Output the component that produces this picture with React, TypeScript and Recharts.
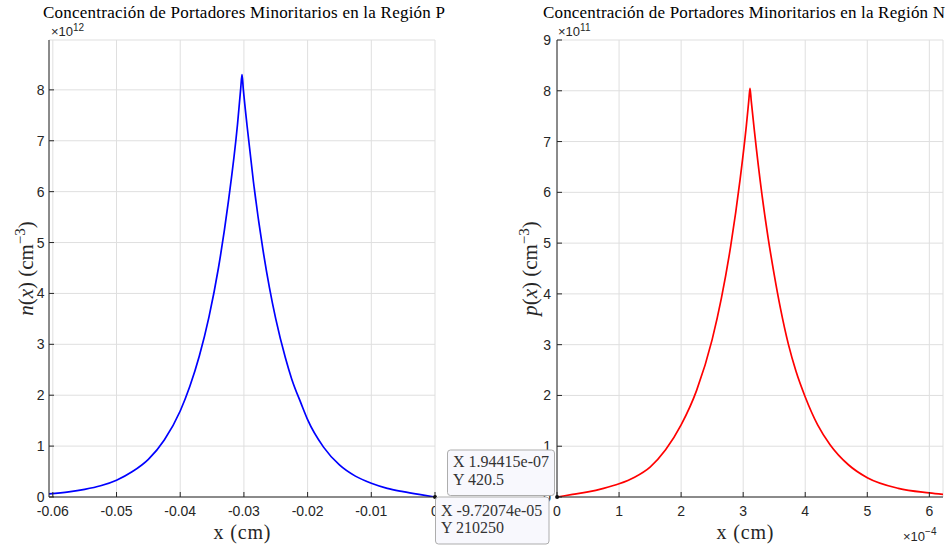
import React from 'react';
import { LineChart, Line, XAxis, YAxis, CartesianGrid, ReferenceDot } from 'recharts';

// Región P: x in cm, n(x) in units of 1e12 cm^-3
const xP = [-0.0606, -0.0575, -0.055, -0.0525, -0.05, -0.0475, -0.045, -0.0425, -0.04, -0.0385, -0.037, -0.0355, -0.034, -0.0325, -0.031, -0.0305, -0.0303, -0.0301, -0.0295, -0.0285, -0.027, -0.026, -0.025, -0.0235, -0.0225, -0.021, -0.02, -0.0175, -0.015, -0.0125, -0.01, -0.0075, -0.005, -0.0025, 0];
const nP = [0.06, 0.1, 0.15, 0.22, 0.33, 0.5, 0.74, 1.12, 1.69, 2.17, 2.77, 3.53, 4.5, 5.75, 7.33, 8.03, 8.3, 8.02, 7.29, 6.19, 4.85, 4.12, 3.5, 2.74, 2.32, 1.83, 1.52, 0.98, 0.63, 0.41, 0.27, 0.17, 0.105, 0.05, 0];

// Región N: x in units of 1e-4 cm, p(x) in units of 1e11 cm^-3
const xN = [0, 0.25, 0.5, 0.75, 1.0, 1.25, 1.5, 1.75, 2.0, 2.25, 2.5, 2.65, 2.8, 2.95, 3.05, 3.09, 3.11, 3.13, 3.18, 3.3, 3.4, 3.5, 3.6, 3.73, 3.85, 4.0, 4.2, 4.4, 4.7, 5.0, 5.5, 6.0, 6.22];
const pN = [0, 0.05, 0.1, 0.17, 0.26, 0.39, 0.59, 0.93, 1.42, 2.1, 3.1, 3.92, 4.95, 6.25, 7.3, 7.8, 8.05, 7.8, 7.22, 5.98, 5.12, 4.38, 3.72, 3.0, 2.48, 1.97, 1.42, 1.03, 0.63, 0.38, 0.17, 0.08, 0.05];

const xTicksP = [-0.06, -0.05, -0.04, -0.03, -0.02, -0.01, 0];
const xTickLabelsP = ['-0.06', '-0.05', '-0.04', '-0.03', '-0.02', '-0.01', '0'];
const yTicksP = [0, 1, 2, 3, 4, 5, 6, 7, 8];
const xTicksN = [0, 1, 2, 3, 4, 5, 6];
const yTicksN = [0, 1, 2, 3, 4, 5, 6, 7, 8, 9];

const rowsP = xP.map((x, i) => ({ x, n: nP[i] }));
const rowsN = xN.map((x, i) => ({ x, p: pN[i] }));

const AX = '#262626';
const GRID = '#dfdfdf';
const tickStyle = { fill: AX, fontSize: 14, fontFamily: 'Liberation Sans, Arial, sans-serif' };
const serif = 'Liberation Serif, Times New Roman, serif';
const sans = 'Liberation Sans, Arial, sans-serif';

const fmtP = (v: number) => {
  const i = xTicksP.findIndex((t) => Math.abs(t - v) < 1e-9);
  return i >= 0 ? xTickLabelsP[i] : String(v);
};
const fmtInt = (v: number) => String(Math.round(v));

export default function App() {
  return (
    <div style={{ position: 'absolute', left: 0, top: 0, width: 948, height: 546, background: '#fff', overflow: 'hidden' }}>
      <div style={{ position: 'absolute', left: 0, top: 0 }}>
        <LineChart width={480} height={546} data={rowsP} margin={{ top: 40, right: 45, bottom: 0, left: 0 }}>
          <CartesianGrid stroke={GRID} />
          <XAxis dataKey="x" type="number" domain={[-0.0606, 0]} ticks={xTicksP} allowDataOverflow interval={0}
            height={49} tickSize={-5} tickMargin={14} stroke={AX} tick={tickStyle} tickFormatter={fmtP} />
          <XAxis xAxisId="top" orientation="top" dataKey="x" type="number" domain={[-0.0606, 0]} ticks={xTicksP}
            allowDataOverflow interval={0} height={0} tickSize={-5} stroke={AX} tick={false} />
          <YAxis type="number" domain={[0, 8.98]} ticks={yTicksP} allowDataOverflow interval={0}
            width={49} tickSize={-5} tickMargin={9.5} stroke={AX} tick={tickStyle} tickFormatter={fmtInt} />
          <YAxis yAxisId="right" orientation="right" type="number" domain={[0, 8.98]} ticks={yTicksP}
            allowDataOverflow interval={0} width={0} tickSize={-5} stroke={AX} tick={false} />
          <Line dataKey="n" type="monotone" stroke="#0000ff" strokeWidth={1.7} dot={false} isAnimationActive={false} />
          <ReferenceDot x={0} y={0} r={2} fill="#111" stroke="none" ifOverflow="visible" />
        </LineChart>
      </div>
      <div style={{ position: 'absolute', left: 480, top: 0 }}>
        <LineChart width={468} height={546} data={rowsN} margin={{ top: 40, right: 5, bottom: 0, left: 0 }}>
          <CartesianGrid stroke={GRID} />
          <XAxis dataKey="x" type="number" domain={[0, 6.22]} ticks={xTicksN} allowDataOverflow interval={0}
            height={49} tickSize={-5} tickMargin={14} stroke={AX} tick={tickStyle} tickFormatter={fmtInt} />
          <XAxis xAxisId="top" orientation="top" dataKey="x" type="number" domain={[0, 6.22]} ticks={xTicksN}
            allowDataOverflow interval={0} height={0} tickSize={-5} stroke={AX} tick={false} />
          <YAxis type="number" domain={[0, 9]} ticks={yTicksN} allowDataOverflow interval={0}
            width={77} tickSize={-5} tickMargin={11} stroke={AX} tick={tickStyle} tickFormatter={fmtInt} />
          <YAxis yAxisId="right" orientation="right" type="number" domain={[0, 9]} ticks={yTicksN}
            allowDataOverflow interval={0} width={0} tickSize={-5} stroke={AX} tick={false} />
          <Line dataKey="p" type="monotone" stroke="#ff0000" strokeWidth={1.7} dot={false} isAnimationActive={false} />
          <ReferenceDot x={0.00194415} y={0} r={2} fill="#111" stroke="none" ifOverflow="visible" />
        </LineChart>
      </div>
      <svg width={948} height={546} style={{ position: 'absolute', left: 0, top: 0, pointerEvents: 'none' }}>
        {/* titles */}
        <text x={43} y={18} fontFamily={serif} fontSize={17} fill="#000" textLength={402} lengthAdjust="spacing">
          Concentración de Portadores Minoritarios en la Región P
        </text>
        <text x={543} y={18} fontFamily={serif} fontSize={17} fill="#000" textLength={402} lengthAdjust="spacing">
          Concentración de Portadores Minoritarios en la Región N
        </text>
        {/* exponents */}
        <text x={51} y={36} fontFamily={sans} fontSize={13} fill={AX}>
          ×10<tspan dy={-5} fontSize={10}>12</tspan>
        </text>
        <text x={558} y={36} fontFamily={sans} fontSize={13} fill={AX}>
          ×10<tspan dy={-5} fontSize={10}>11</tspan>
        </text>
        <text x={903} y={541} fontFamily={sans} fontSize={13} fill={AX}>
          ×10<tspan dy={-6} fontSize={10}>−4</tspan>
        </text>
        {/* x labels */}
        <text x={242} y={539} textAnchor="middle" fontFamily={serif} fontSize={20} fill={AX} textLength={57} lengthAdjust="spacing">x (cm)</text>
        <text x={745} y={539} textAnchor="middle" fontFamily={serif} fontSize={20} fill={AX} textLength={57} lengthAdjust="spacing">x (cm)</text>
        {/* y labels */}
        <text transform="translate(33,268.5) rotate(-90)" textAnchor="middle" fontFamily={serif} fontSize={21} fill={AX}>
          <tspan fontStyle="italic">n</tspan>(<tspan fontStyle="italic">x</tspan>)  (cm<tspan dy={-8} fontSize={15}>−3</tspan><tspan dy={8}>)</tspan>
        </text>
        <text transform="translate(537,268.5) rotate(-90)" textAnchor="middle" fontFamily={serif} fontSize={21} fill={AX}>
          <tspan fontStyle="italic">p</tspan>(<tspan fontStyle="italic">x</tspan>)  (cm<tspan dy={-8} fontSize={15}>−3</tspan><tspan dy={8}>)</tspan>
        </text>
        {/* data tips */}
        <rect x={447.5} y={450} width={107} height={45.5} rx={3} fill="#f8f8fd" stroke="#adadad" />
        <text x={453} y={467} fontFamily={serif} fontSize={16} fill="#333">X 1.94415e-07</text>
        <text x={453} y={485} fontFamily={serif} fontSize={16} fill="#333">Y 420.5</text>
        <rect x={435.5} y={497} width={113.5} height={47} rx={3} fill="#f8f8fd" stroke="#adadad" />
        <text x={441} y={516} fontFamily={serif} fontSize={16} fill="#333">X -9.72074e-05</text>
        <text x={441} y={533} fontFamily={serif} fontSize={16} fill="#333">Y 210250</text>
      </svg>
    </div>
  );
}
